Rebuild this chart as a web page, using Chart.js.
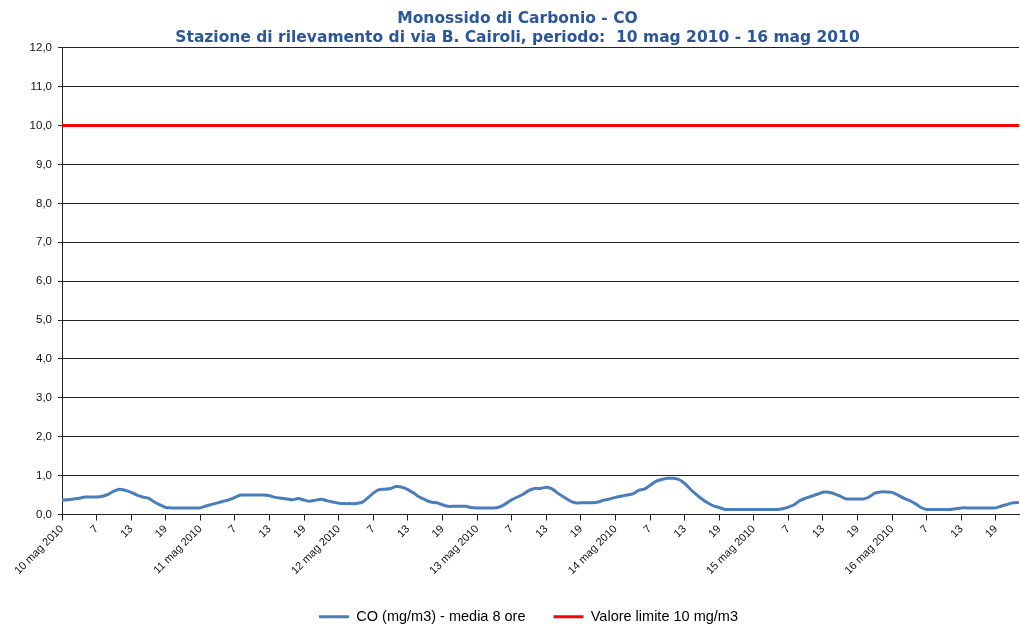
<!DOCTYPE html>
<html>
<head>
<meta charset="utf-8">
<title>Monossido di Carbonio - CO</title>
<script src="https://cdn.jsdelivr.net/npm/chart.js@4.4.1/dist/chart.umd.min.js"></script>
<style>
  html, body { margin: 0; padding: 0; background: #fff; }
</style>
</head>
<body>
<canvas id="co-chart" width="1021" height="628"></canvas>
<script>
// CO 8-hour moving average, Cairoli station, 10-16 May 2010 (hourly values, mg/m3)

const dayNames = ['10 mag 2010', '11 mag 2010', '12 mag 2010', '13 mag 2010',
                  '14 mag 2010', '15 mag 2010', '16 mag 2010'];

// one array per day, hours 1..24 (last day stops at hour 23)
const co10 = [0.37, 0.38, 0.40, 0.42, 0.45, 0.45, 0.45, 0.47, 0.52, 0.60, 0.65, 0.62,
              0.57, 0.50, 0.45, 0.42, 0.32, 0.25, 0.18, 0.17, 0.17, 0.17, 0.17, 0.17];
const co11 = [0.17, 0.22, 0.26, 0.30, 0.34, 0.38, 0.44, 0.50, 0.50, 0.50, 0.50, 0.50,
              0.48, 0.44, 0.42, 0.40, 0.38, 0.41, 0.37, 0.34, 0.37, 0.39, 0.35, 0.32];
const co12 = [0.29, 0.28, 0.28, 0.28, 0.31, 0.42, 0.55, 0.64, 0.65, 0.67, 0.72, 0.70,
              0.64, 0.55, 0.45, 0.38, 0.32, 0.30, 0.25, 0.21, 0.21, 0.21, 0.21, 0.18];
const co13 = [0.17, 0.17, 0.17, 0.17, 0.20, 0.28, 0.38, 0.45, 0.52, 0.62, 0.67, 0.67,
              0.70, 0.66, 0.55, 0.45, 0.36, 0.30, 0.30, 0.30, 0.30, 0.32, 0.37, 0.40];
const co14 = [0.44, 0.47, 0.50, 0.53, 0.62, 0.65, 0.75, 0.85, 0.90, 0.93, 0.93, 0.90,
              0.80, 0.65, 0.52, 0.40, 0.30, 0.22, 0.18, 0.13, 0.13, 0.13, 0.13, 0.13];
const co15 = [0.13, 0.13, 0.13, 0.13, 0.13, 0.15, 0.19, 0.25, 0.36, 0.42, 0.47, 0.52,
              0.57, 0.57, 0.53, 0.47, 0.40, 0.40, 0.40, 0.40, 0.45, 0.55, 0.58, 0.58];
const co16 = [0.57, 0.50, 0.42, 0.36, 0.28, 0.18, 0.13, 0.13, 0.13, 0.13, 0.13, 0.15,
              0.17, 0.17, 0.17, 0.17, 0.17, 0.17, 0.17, 0.22, 0.26, 0.30, 0.31];

const limitValue = 10; // valore limite, mg/m3

const yTicks = [0, 1, 2, 3, 4, 5, 6, 7, 8, 9, 10, 11, 12];

const coSeries = [].concat(co10, co11, co12, co13, co14, co15, co16);

// category labels: day name at hour 1, otherwise the hour number
const labels = [];
[co10, co11, co12, co13, co14, co15, co16].forEach((day, d) => {
  day.forEach((v, h) => labels.push(h === 0 ? dayNames[d] : String(h + 1)));
});

// limit line: only the two ends are set, spanGaps joins them
const limitSeries = labels.map((l, i) => (i === 0 || i === labels.length - 1) ? limitValue : null);

// nudges title and legend so they sit where the original ones do
const boxShift = {
  id: 'boxShift',
  afterLayout(chart) {
    const lg = chart.legend;
    lg.left += 19;
    lg.right += 19;
    lg.top += 6;
    lg.bottom += 6;
    chart.titleBlock.left += 8;
    chart.titleBlock.right += 8;
  }
};

new Chart(document.getElementById('co-chart'), {
  type: 'line',
  data: {
    labels,
    datasets: [{
      label: 'CO (mg/m3) - media 8 ore',
      data: coSeries,
      borderColor: '#4A7EBB',
      backgroundColor: '#4A7EBB',
      borderWidth: 3,
      pointRadius: 0,
      tension: 0.25
    }, {
      label: 'Valore limite 10 mg/m3',
      data: limitSeries,
      spanGaps: true,
      borderColor: '#FF0000',
      backgroundColor: '#FF0000',
      borderWidth: 3,
      pointRadius: 0
    }]
  },
  plugins: [boxShift],
  options: {
    responsive: false,
    devicePixelRatio: 1,
    animation: false,
    layout: { padding: { left: 0, right: 2, top: 0, bottom: 0 } },
    plugins: {
      title: {
        display: true,
        text: ['Monossido di Carbonio - CO',
               'Stazione di rilevamento di via B. Cairoli, periodo:  10 mag 2010 - 16 mag 2010'],
        color: '#2B579A',
        font: { family: 'DejaVu Sans', weight: 'bold', size: 15.5, lineHeight: 1.22 },
        padding: { top: 10, bottom: 0 }
      },
      legend: {
        position: 'bottom',
        labels: {
          usePointStyle: true,
          pointStyle: 'line',
          pointStyleWidth: 30,
          color: '#000',
          font: { family: 'Liberation Sans', size: 14.5 },
          padding: 28
        }
      },
      tooltip: { enabled: false }
    },
    scales: {
      x: {
        type: 'category',
        offset: false,
        grid: { display: true, drawOnChartArea: false, drawTicks: true, tickLength: 6, color: '#222' },
        border: { display: true, color: '#222', width: 1 },
        afterBuildTicks: scale => { scale.ticks = scale.ticks.filter(t => t.value % 6 === 0); },
        afterFit: scale => { scale.height = 61; },
        ticks: {
          autoSkip: false,
          minRotation: 45,
          maxRotation: 45,
          padding: 2,
          color: '#111',
          font: { family: 'Liberation Sans', size: 11 }
        }
      },
      y: {
        min: yTicks[0],
        max: yTicks[yTicks.length - 1],
        afterBuildTicks: scale => { scale.ticks = yTicks.map(v => ({ value: v })); },
        afterFit: scale => { scale.width = 62; },
        grid: { color: '#222', lineWidth: 1, tickLength: 4 },
        border: { display: true, color: '#222', width: 1 },
        ticks: {
          padding: 6,
          color: '#111',
          font: { family: 'Liberation Sans', size: 11.5 },
          callback: v => v.toFixed(1).replace('.', ',')
        }
      }
    }
  }
});
</script>
</body>
</html>
